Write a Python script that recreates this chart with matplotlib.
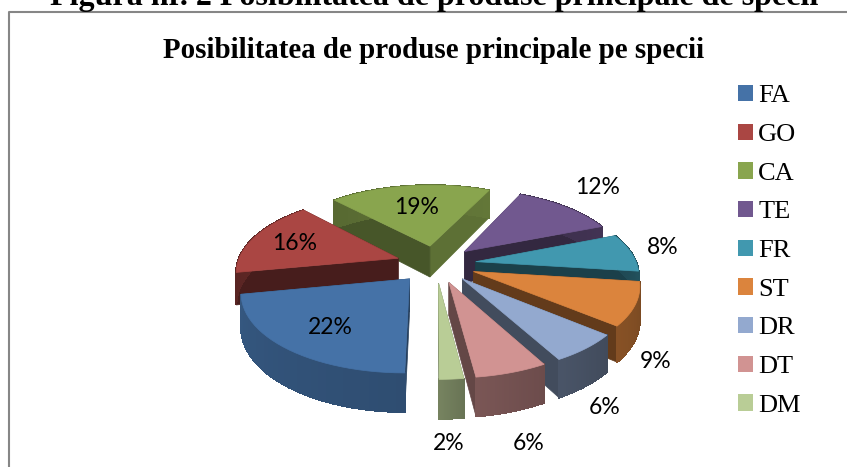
import numpy as np
import matplotlib
matplotlib.use("Agg")
import matplotlib.pyplot as plt
from matplotlib.patches import Polygon, Patch
from matplotlib.colors import to_rgb

# Data
species = ["FA", "GO", "CA", "TE", "FR", "ST", "DR", "DT", "DM"]
shares = [22, 16, 19, 12, 8, 9, 6, 6, 2]
top_colors = ["#4572A7", "#AA4643", "#89A54E", "#71588F", "#4198AF",
              "#DB843D", "#93A9CF", "#D19392", "#B9CD96"]
outer_shade = [0.72, 0.55, 0.68, 0.55, 0.5, 0.58, 0.47, 0.55, 0.6]
radial_shade = [0.55, 0.42, 0.52, 0.45, 0.42, 0.45, 0.45, 0.48, 0.55]
title = "Posibilitatea de produse principale pe specii"
caption = "Figura nr. 2 Posibilitatea de produse principale de specii"

# Layout (pixel canvas and 3D pie projection)
W, H = 847, 467
CX, CY = 436, 264
RX, RY = 161, 75
PERSP = 0.15
EXPLODE = 0.25
DEPTH = 32
START = 180.0
label_xy = [(330, 328), (295, 243), (417, 207), (598, 187), (663, 248),
            (656, 361), (605, 408), (529, 443), (449, 443)]

fig = plt.figure(figsize=(W / 100, H / 100), dpi=100)
ax = fig.add_axes([0, 0, 1, 1])
ax.set_xlim(0, W)
ax.set_ylim(H, 0)
ax.axis("off")


def project(X, Y, Z=0.0):
    s = 1 / (1 + PERSP * Y)
    return CX + RX * X * s, CY - (RY * Y + DEPTH * Z) * s


def shade(color, f):
    return tuple(min(1, c * f) for c in to_rgb(color))


def draw_slice(a0, a1, color, fo, fr, z):
    mid = np.radians((a0 + a1) / 2)
    ox, oy = EXPLODE * np.sin(mid), EXPLODE * np.cos(mid)
    th = np.radians(np.linspace(a0, a1, 30))
    X, Y = ox + np.sin(th), oy + np.cos(th)

    # radial walls, farther one first; a wall lit from the front-right is lighter
    walls = [(Y[0], X[0], a0), (Y[-1], X[-1], a1)]
    walls.sort(key=lambda w: -w[0])
    for k, (ye, xe, ang) in enumerate(walls):
        f = fr * (1.3 if ang % 360 < 40 else 1.0)
        pts = [project(ox, oy), project(xe, ye), project(xe, ye, -1), project(ox, oy, -1)]
        ax.add_patch(Polygon(pts, closed=True, fc=shade(color, f), ec=shade(color, f), lw=0.5, zorder=z + k * 0.01))
    # outer wall: underlay, then smooth left-to-right shading
    under = [project(x, y) for x, y in zip(X, Y)] + [project(x, y, -1) for x, y in zip(X[::-1], Y[::-1])]
    ax.add_patch(Polygon(under, closed=True, fc=shade(color, fo), ec=shade(color, fo), lw=0.5, zorder=z + 0.1))
    for i in range(len(th) - 1):
        f = fo * (1 + 0.12 * (i / (len(th) - 2) - 0.5))
        pts = [project(X[i], Y[i]), project(X[i + 1], Y[i + 1]),
               project(X[i + 1], Y[i + 1], -1), project(X[i], Y[i], -1)]
        ax.add_patch(Polygon(pts, closed=True, fc=shade(color, f), ec=shade(color, f),
                             lw=0.8, antialiased=False, zorder=z + 0.2))
    # top face
    pts = [project(ox, oy)] + [project(x, y) for x, y in zip(X, Y)]
    ax.add_patch(Polygon(pts, closed=True, fc=color, ec=color, lw=0.5, zorder=z + 0.3))


edges = START + np.concatenate([[0], np.cumsum(shares)]) * 360 / sum(shares)
mids = (edges[:-1] + edges[1:]) / 2
order = np.argsort(-np.cos(np.radians(mids)), kind="stable")
for rank, idx in enumerate(order):
    draw_slice(edges[idx], edges[idx + 1], top_colors[idx], outer_shade[idx], radial_shade[idx], 2 + rank)

for v, (x, y) in zip(shares, label_xy):
    ax.text(x, y, f"{v}%", ha="center", va="center", family="Lato", fontsize=16.5,
            color="black", zorder=50)

# Frame, caption, title
ax.plot([9, 9, W + 5], [H + 5, 11.7, 11.7], color="#868686", lw=1.5, zorder=1)
ax.text(434, 5, caption, ha="center", va="baseline", family="Liberation Serif",
        fontweight="bold", fontsize=23, color="black", zorder=60)
ax.text(434, 58, title, ha="center", va="baseline", family="Liberation Serif",
        fontweight="bold", fontsize=20.9, color="black", zorder=60)

handles = [Patch(fc=c, ec="none") for c in top_colors]
leg = ax.legend(handles, species, loc="upper left",
                bbox_to_anchor=(738 / W, 1 - 85 / H), bbox_transform=fig.transFigure,
                frameon=False, prop={"family": "Liberation Serif", "size": 19},
                handlelength=0.57, handleheight=0.57, handletextpad=0.2,
                labelspacing=0.615, borderpad=0, borderaxespad=0)

fig.savefig("out.png", dpi=100, facecolor="white")
